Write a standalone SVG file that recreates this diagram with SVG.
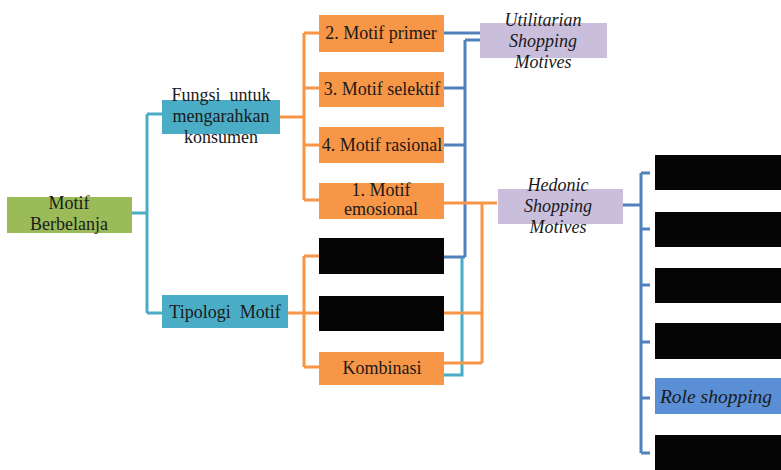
<svg xmlns="http://www.w3.org/2000/svg" width="781" height="470" viewBox="0 0 781 470">
  <style>
    .t { font-family: "Liberation Serif", "Times New Roman", serif; font-size: 18px; fill: #1a1a1a; text-anchor: middle; }
    .it { font-style: italic; }
    .big { font-size: 19.5px; }
    .green { fill: #9BBB59; }
    .teal { fill: #4BACC6; }
    .orange { fill: #F79646; }
    .lav { fill: #C9BFDC; }
    .hidden { fill: #050505; }
    .roleb { fill: #5A8FD6; }
    .c { fill: none; stroke-width: 3; }
    .c-teal { stroke: #4BACC6; }
    .c-or { stroke: #F79646; }
    .c-blue { stroke: #4F81BD; }
  </style>
  <rect width="781" height="470" fill="#ffffff"/>

  <g id="connectors">
    <!-- root to the two branches -->
    <path class="c c-teal" d="M132,213 H147 M147,114 V313 M147,114 H162 M147,313 H162"/>
    <!-- Fungsi branch -->
    <path class="c c-or" d="M280,117 H304 M304,33 V200 M304,33 H319 M304,88 H319 M304,145 H319 M304,200 H319"/>
    <!-- Tipologi branch -->
    <path class="c c-or" d="M288,313 H304 M304,256 V367 M304,256 H319 M304,313 H319 M304,367 H319"/>
    <!-- utilitarian links -->
    <path class="c c-blue" d="M444,33 H480 M465,40 H480 M465,40 V257 M444,88 H465 M444,145 H465 M444,257 H465"/>
    <path class="c c-teal" d="M444,375 H462 V258"/>
    <!-- hedonic links -->
    <path class="c c-or" d="M444,203 H497 M482,203 V363 M444,313 H482 M444,363 H482"/>
    <!-- hedonic sub-types -->
    <path class="c c-blue" d="M623,205 H641 M641,173 V453 M641,173 H650 M641,229 H650 M641,285 H650 M641,342 H650 M641,398 H650 M641,453 H650"/>
  </g>

  <g id="motif-berbelanja">
    <rect class="green" x="7" y="197" width="125" height="36"/>
    <text class="t" x="69" y="209">Motif</text>
    <text class="t" x="69" y="230">Berbelanja</text>
  </g>

  <g id="fungsi">
    <rect class="teal" x="162" y="100" width="118" height="34"/>
    <text class="t" x="221" y="101" xml:space="preserve">Fungsi  untuk</text>
    <text class="t" x="221" y="122">mengarahkan</text>
    <text class="t" x="221" y="143">konsumen</text>
  </g>

  <g id="tipologi">
    <rect class="teal" x="162" y="295" width="126" height="33"/>
    <text class="t" x="225" y="318" xml:space="preserve">Tipologi  Motif</text>
  </g>

  <g id="motif-primer">
    <rect class="orange" x="319" y="15" width="125" height="37"/>
    <text class="t" x="381" y="39">2. Motif primer</text>
  </g>
  <g id="motif-selektif">
    <rect class="orange" x="319" y="72" width="125" height="35"/>
    <text class="t" x="382" y="95">3. Motif selektif</text>
  </g>
  <g id="motif-rasional">
    <rect class="orange" x="319" y="127" width="125" height="36"/>
    <text class="t" x="382" y="151">4. Motif rasional</text>
  </g>
  <g id="motif-emosional">
    <rect class="orange" x="319" y="183" width="125" height="36"/>
    <text class="t" x="381" y="196">1. Motif</text>
    <text class="t" x="381" y="215">emosional</text>
  </g>
  <g id="tipologi-a">
    <rect class="hidden" x="319" y="238" width="125" height="36"/>
  </g>
  <g id="tipologi-b">
    <rect class="hidden" x="319" y="296" width="125" height="35"/>
  </g>
  <g id="kombinasi">
    <rect class="orange" x="319" y="352" width="125" height="33"/>
    <text class="t" x="382" y="374">Kombinasi</text>
  </g>

  <g id="utilitarian">
    <rect class="lav" x="480" y="23" width="127" height="35"/>
    <text class="t it" x="543" y="26">Utilitarian</text>
    <text class="t it" x="543" y="47">Shopping</text>
    <text class="t it" x="543" y="68">Motives</text>
  </g>

  <g id="hedonic">
    <rect class="lav" x="498" y="189" width="125" height="35"/>
    <text class="t it" x="558" y="191">Hedonic</text>
    <text class="t it" x="558" y="212">Shopping</text>
    <text class="t it" x="558" y="233">Motives</text>
  </g>

  <g id="hedonic-1"><rect class="hidden" x="655" y="155" width="126" height="35"/></g>
  <g id="hedonic-2"><rect class="hidden" x="655" y="212" width="126" height="35"/></g>
  <g id="hedonic-3"><rect class="hidden" x="655" y="268" width="126" height="35"/></g>
  <g id="hedonic-4"><rect class="hidden" x="655" y="323" width="126" height="36"/></g>
  <g id="role-shopping">
    <rect class="roleb" x="655" y="378" width="126" height="36"/>
    <text class="t it big" x="716" y="403">Role shopping</text>
  </g>
  <g id="hedonic-6"><rect class="hidden" x="655" y="435" width="126" height="35"/></g>
</svg>
